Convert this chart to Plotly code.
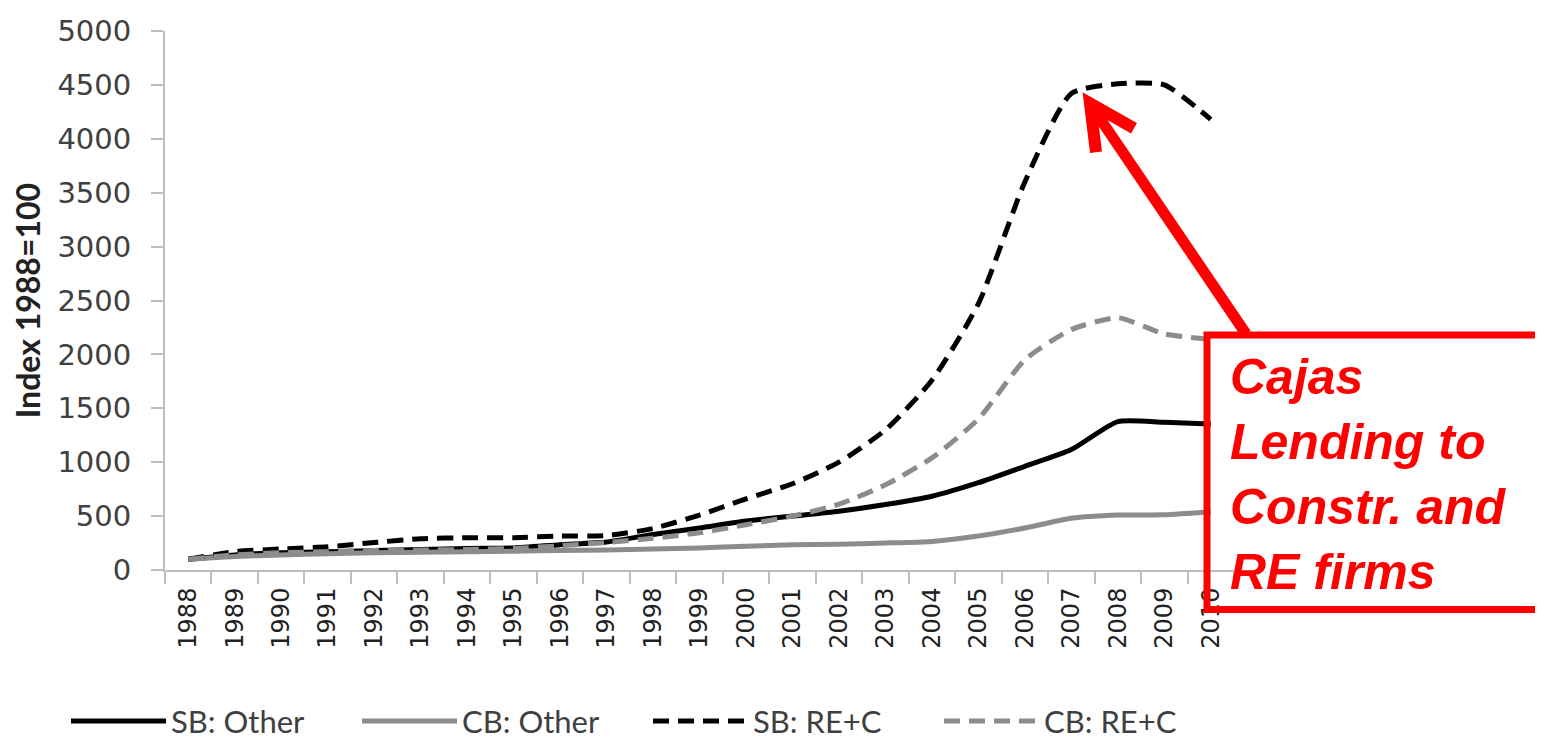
import plotly.graph_objects as go

years = [str(y) for y in range(1988, 2011)]
sb_other = [100, 140, 160, 170, 180, 190, 200, 205, 235, 260, 330, 390, 455, 500, 545, 607, 684, 810, 962, 1117, 1377, 1370, 1355]
cb_other = [100, 125, 140, 150, 160, 165, 170, 175, 180, 185, 195, 205, 220, 235, 240, 250, 265, 315, 390, 480, 510, 512, 540]
sb_rec = [100, 170, 195, 215, 255, 290, 300, 300, 315, 320, 385, 510, 660, 800, 1000, 1300, 1760, 2470, 3600, 4420, 4510, 4500, 4180]
cb_rec = [100, 140, 160, 170, 180, 185, 190, 200, 225, 255, 295, 345, 420, 500, 610, 790, 1040, 1400, 1950, 2230, 2340, 2190, 2140]

series_names = ["SB: Other", "CB: Other", "SB: RE+C", "CB: RE+C"]
series_vals = [sb_other, cb_other, sb_rec, cb_rec]
styles = [
    dict(color="#000000", dash="solid"),
    dict(color="#8c8c8c", dash="solid"),
    dict(color="#000000", dash="16px,9px"),
    dict(color="#8c8c8c", dash="16px,9px"),
]

W, H = 1543, 738
OFF = 8  # page body margin
L, R = 165, 1234
T, B = 30.6, 570.5

def px(x, y):
    return (x - L) / (R - L), (B - y) / (B - T)

fig = go.Figure()
for name, vals, st in zip(series_names, series_vals, styles):
    fig.add_trace(go.Scatter(
        x=years, y=vals, name=name, mode="lines",
        line=dict(color=st["color"], dash=st["dash"], width=5, shape="spline", smoothing=0.6),
    ))

red = "#ff0000"
shapes = []
bx0, by0 = px(1207, 610)
bx1, by1 = px(1539, 335)
shapes.append(dict(type="rect", xref="paper", yref="paper", x0=bx0, y0=by0, x1=bx1, y1=by1,
                   line=dict(color=red, width=7), fillcolor="rgba(255,255,255,0)", layer="above"))
ax0, ay0 = px(1246, 334)
ax1, ay1 = px(1093, 108)
shapes.append(dict(type="line", xref="paper", yref="paper", x0=ax0, y0=ay0, x1=ax1, y1=ay1,
                   line=dict(color=red, width=11), layer="above"))
p1 = px(1096, 152)
p2 = px(1090, 103)
p3 = px(1134, 128)
shapes.append(dict(type="path", xref="paper", yref="paper",
                   path=f"M {p1[0]},{p1[1]} L {p2[0]},{p2[1]} L {p3[0]},{p3[1]}",
                   line=dict(color=red, width=12), layer="above"))

tx, ty = px(1228, 347)
annotations = [dict(
    xref="paper", yref="paper", x=tx, y=ty, xanchor="left", yanchor="top", align="left",
    showarrow=False,
    text="<b><i>Cajas<br>Lending to<br>Constr. and<br>RE firms</i></b>",
    font=dict(family="Liberation Sans, Arial", size=50, color=red),
)]

lx, ly = px(66, 722)

fig.update_layout(
    width=W, height=H,
    margin=dict(l=L - OFF, r=W - (R - OFF), t=T - OFF, b=H - (B - OFF), pad=0, autoexpand=False),
    paper_bgcolor="white", plot_bgcolor="white",
    showlegend=True,
    legend=dict(orientation="h", x=lx, y=ly, xanchor="left", yanchor="middle",
                entrywidth=181, entrywidthmode="pixels", itemwidth=95,
                font=dict(family="Lato, Open Sans", size=31, color="#404040"),
                bgcolor="rgba(0,0,0,0)", tracegroupgap=0),
    xaxis=dict(type="category", showgrid=False, showline=True, linecolor="#bfbfbf", linewidth=2,
               ticks="outside", tickson="boundaries", ticklen=12, tickcolor="#bfbfbf", tickwidth=2,
               tickangle=-90, tickfont=dict(family="DejaVu Sans", size=24, color="#222222"),
               ticklabelstandoff=6, range=[-0.5, 22.5], automargin=False),
    yaxis=dict(range=[0, 5000], dtick=500, showgrid=False, showline=True, linecolor="#bfbfbf", linewidth=2,
               ticks="outside", ticklen=12, tickcolor="#bfbfbf", tickwidth=2, zeroline=False,
               tickfont=dict(family="DejaVu Sans", size=29, color="#404040"),
               ticklabelstandoff=14, automargin=False,
               title=dict(text="<b>Index 1988=100</b>", standoff=14,
                          font=dict(family="Lato, Open Sans", size=32, color="#222222"))),
    shapes=shapes,
    annotations=annotations,
)

fig.write_html("out.html")
